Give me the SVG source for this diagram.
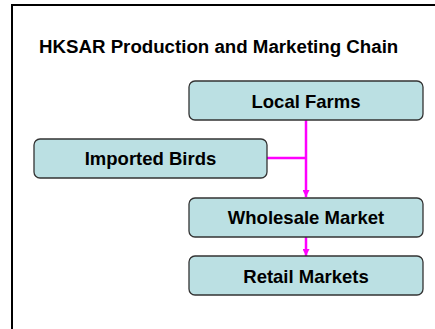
<svg xmlns="http://www.w3.org/2000/svg" width="435" height="329" viewBox="0 0 435 329">
<style>
.box{fill:#BBE0E3;stroke:#333;stroke-width:1.3}
.lbl{font-family:"Liberation Sans",Arial,sans-serif;font-weight:bold;font-size:18.5px;fill:#000;text-anchor:middle}
.title{font-family:"Liberation Sans",Arial,sans-serif;font-weight:bold;font-size:18.7px;fill:#000}
.conn{stroke:#FF00FF;stroke-width:2.5;fill:none}
</style>
<defs>
<marker id="ah" viewBox="0 0 10 10" refX="10" refY="5" markerWidth="8" markerHeight="7" markerUnits="userSpaceOnUse" orient="auto">
<path d="M0,0 L10,5 L0,10 z" fill="#FF00FF"/>
</marker>
</defs>
<rect width="435" height="329" fill="#fff"/>
<path d="M12,329 V5 H435" fill="none" stroke="#000" stroke-width="2"/>
<text class="title" x="39" y="52.5">HKSAR Production and Marketing Chain</text>
<g id="connectors">
<path class="conn" d="M306,120 V197" marker-end="url(#ah)"/>
<path class="conn" d="M267,158 H306"/>
<path class="conn" d="M306,237 V256" marker-end="url(#ah)"/>
</g>
<g id="local-farms">
<rect class="box" x="189" y="81" width="234" height="39" rx="6"/>
<text class="lbl" x="306" y="108">Local Farms</text>
</g>
<g id="imported-birds">
<rect class="box" x="34" y="139" width="233" height="39" rx="6"/>
<text class="lbl" x="150.5" y="165">Imported Birds</text>
</g>
<g id="wholesale-market">
<rect class="box" x="189" y="198" width="234" height="39" rx="6"/>
<text class="lbl" x="306" y="223.5">Wholesale Market</text>
</g>
<g id="retail-markets">
<rect class="box" x="189" y="256" width="234" height="39" rx="6"/>
<text class="lbl" x="306" y="282.5">Retail Markets</text>
</g>
</svg>
